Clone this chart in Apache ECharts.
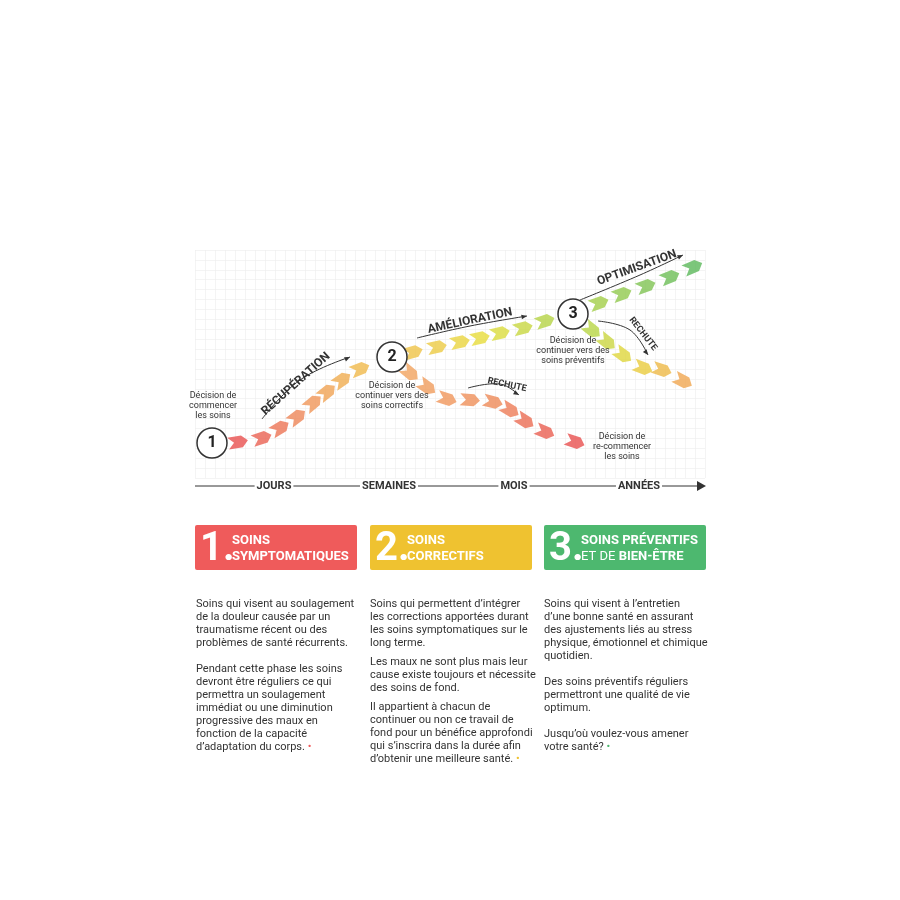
<!DOCTYPE html>
<html><head><meta charset="utf-8">
<script src="https://cdn.jsdelivr.net/npm/echarts@6/dist/echarts.min.js"></script>
<style>html,body{margin:0;background:#fff}#main{width:900px;height:900px}</style>
</head><body><div id="main"></div>
<script>
// chevron positions (page pixels)
const mainPath = [[238,442],[262,438],[280,428],[297,417],[313,403],[327,392],[342,380],[360,369],
  [413,352],[437,347],[460,342],[480,338],[500,333],[523,328],[545,321],
  [599,303],[622,294],[646,286],[670,277],[693,267]];
const relapse1 = [[410,373],[427,387],[447,399],[470,400],[493,402],[510,410],[525,421],[545,432],[575,442]];
const relapse2 = [[592,330],[607,342],[623,355],[643,368],[662,370],[683,381]];
const milestones = [[212,443,'1'],[392,357,'2'],[573,314,'3']];
const timeLabels = [['JOURS',274],['SEMAINES',389],['MOIS',514],['ANNÉES',639]];

const chevron = 'path://M0,0 L14,0 L20,6 L14,12 L0,12 L6,6 Z';
function mix(a, b, t) {
  const pa = a.match(/\w\w/g).map(h => parseInt(h, 16)), pb = b.match(/\w\w/g).map(h => parseInt(h, 16));
  return 'rgb(' + pa.map((v, i) => Math.round(v + (pb[i] - v) * t)).join(',') + ')';
}
function ramp(stops, t) {
  const n = stops.length - 1, k = Math.min(n - 1, Math.floor(t * n));
  return mix(stops[k], stops[k + 1], t * n - k);
}
function chevSeries(pts, stops) {
  return {
    type: 'scatter', xAxisIndex: 0, yAxisIndex: 0, symbol: chevron, symbolSize: [20, 12], z: 5,
    data: pts.map((p, i) => {
      const a = pts[Math.max(0, i - 1)], b = pts[Math.min(pts.length - 1, i + 1)];
      return {
        value: p,
        symbolRotate: Math.atan2(a[1] - b[1], b[0] - a[0]) * 180 / Math.PI,
        itemStyle: { color: ramp(stops, i / (pts.length - 1)) }
      };
    })
  };
}

const g = [];
milestones.forEach(m => {
  g.push({ type: 'circle', shape: { cx: m[0], cy: m[1], r: 15 }, style: { fill: '#fff', stroke: '#333', lineWidth: 1.5 }, z: 10 });
  g.push({ type: 'text', x: m[0], y: m[1], style: { text: m[2], font: 'bold 16px Roboto', fill: '#222', align: 'center', verticalAlign: 'middle' }, z: 11 });
});
const small = (t, x, y) => g.push({ type: 'text', x, y, style: { text: t, font: '9px Roboto', fill: '#333', align: 'center', lineHeight: 10 }, z: 11 });
small('Décision de\ncommencer\nles soins', 213, 391);
small('Décision de\ncontinuer vers des\nsoins correctifs', 392, 381);
small('Décision de\ncontinuer vers des\nsoins préventifs', 573, 336);
small('Décision de\nre-commencer\nles soins', 622, 432);
const rot = (t, x, y, deg, size) => g.push({ type: 'text', x, y, rotation: deg * Math.PI / 180,
  style: { text: t, font: 'bold ' + size + 'px Roboto', fill: '#333', align: 'center', verticalAlign: 'middle' }, z: 11 });
rot('RÉCUPÉRATION', 296, 384, 42, 12);
rot('AMÉLIORATION', 470, 321, 12, 12);
rot('OPTIMISATION', 637, 268, 20, 12);
rot('RECHUTE', 507, 385, -12, 9);
rot('RECHUTE', 643, 334, -52, 9);
const arrow = (pts) => {
  g.push({ type: 'polyline', shape: { points: pts, smooth: 0.4 }, style: { stroke: '#333', lineWidth: 1, fill: null }, z: 11 });
  const a = pts[pts.length - 2], b = pts[pts.length - 1], ang = Math.atan2(b[1] - a[1], b[0] - a[0]);
  g.push({ type: 'polygon', shape: { points: [b, [b[0] - 6 * Math.cos(ang - 0.4), b[1] - 6 * Math.sin(ang - 0.4)], [b[0] - 6 * Math.cos(ang + 0.4), b[1] - 6 * Math.sin(ang + 0.4)]] }, style: { fill: '#333' }, z: 11 });
};
arrow([[262, 419], [300, 380], [350, 357]]);
arrow([[417, 338], [470, 326], [527, 316]]);
arrow([[580, 300], [640, 275], [683, 255]]);
arrow([[468, 388], [500, 384], [519, 395]]);
arrow([[598, 321], [630, 330], [648, 355]]);
// time axis
g.push({ type: 'line', shape: { x1: 195, y1: 486, x2: 698, y2: 486 }, style: { stroke: '#333', lineWidth: 1 }, z: 11 });
g.push({ type: 'polygon', shape: { points: [[706, 486], [697, 481], [697, 491]] }, style: { fill: '#333' }, z: 11 });
timeLabels.forEach(t => g.push({ type: 'text', x: t[1], y: 486, style: { text: t[0], font: 'bold 11px Roboto', fill: '#333', align: 'center', verticalAlign: 'middle', backgroundColor: '#fff', padding: [0, 2] }, z: 12 }));

// boxes
const boxes = [
  [195, '#ef5b5b', '1.', ['SOINS', 'SYMPTOMATIQUES']],
  [370, '#efc230', '2.', ['SOINS', 'CORRECTIFS']],
  [544, '#4db86f', '3.', ['SOINS PRÉVENTIFS', 'ET DE {b|BIEN-ÊTRE}']]
];
boxes.forEach(b => {
  g.push({ type: 'rect', shape: { x: b[0], y: 525, width: 162, height: 45, r: 2 }, style: { fill: b[1] } });
  g.push({ type: 'text', x: b[0] + 5, y: 550, style: { text: b[2], font: 'bold 40px Roboto', fill: '#fff', verticalAlign: 'middle' } });
  g.push({ type: 'text', x: b[0] + 37, y: 533, style: { text: b[3].join('\n'), font: 'bold 13px Roboto', fill: '#fff', lineHeight: 16,
    rich: { b: { font: 'bold 13px Roboto', fill: '#fff' } } } });
});
boxes[2] && g.pop(); // replace third title with mixed weight
g.push({ type: 'text', x: 581, y: 533, style: { text: '{b|SOINS PRÉVENTIFS}\n{n|ET DE }{b|BIEN-ÊTRE}', fill: '#fff',
  rich: { b: { font: 'bold 13px Roboto', fill: '#fff', lineHeight: 16 }, n: { font: '13px Roboto', fill: '#fff', lineHeight: 16 } } } });

const col1 = 'Soins qui visent au soulagement\nde la douleur causée par un\ntraumatisme récent ou des\nproblèmes de santé récurrents.\n\nPendant cette phase les soins\ndevront être réguliers ce qui\npermettra un soulagement\nimmédiat ou une diminution\nprogressive des maux en\nfonction de la capacité\nd\u2019adaptation du corps. {r|•}';
const col2 = 'Soins qui permettent d\u2019intégrer\nles corrections apportées durant\nles soins symptomatiques sur le\nlong terme.\n{s|}\nLes maux ne sont plus mais leur\ncause existe toujours et nécessite\ndes soins de fond.\n{s|}\nIl appartient à chacun de\ncontinuer ou non ce travail de\nfond pour un bénéfice approfondi\nqui s\u2019inscrira dans la durée afin\nd\u2019obtenir une meilleure santé. {y|•}';
const col3 = 'Soins qui visent à l\u2019entretien\nd\u2019une bonne santé en assurant\ndes ajustements liés au stress\nphysique, émotionnel et chimique\nquotidien.\n\nDes soins préventifs réguliers\npermettront une qualité de vie\noptimum.\n\nJusqu\u2019où voulez-vous amener\nvotre santé? {g|•}';
[[196, col1], [370, col2], [544, col3]].forEach(c => g.push({ type: 'text', x: c[0], y: 598, style: { text: c[1], font: '11px Roboto', fill: '#333', lineHeight: 13,
  rich: { r: { fill: '#ef5b5b' }, y: { fill: '#efc230' }, g: { fill: '#4db86f' }, s: { lineHeight: 6 } } } }));

const chart = echarts.init(document.getElementById('main'));
chart.setOption({
  animation: false,
  grid: [
    { left: 0, top: 0, width: 900, height: 900 },
    { left: 195, top: 250, width: 510, height: 228 }
  ],
  xAxis: [
    { type: 'value', min: 0, max: 900, show: false, gridIndex: 0 },
    { type: 'value', min: 0, max: 510, interval: 10, gridIndex: 1, axisLine: { show: false }, axisTick: { show: false }, axisLabel: { show: false }, splitLine: { lineStyle: { color: '#ececec', width: 0.6 } } }
  ],
  yAxis: [
    { type: 'value', min: 0, max: 900, inverse: true, show: false, gridIndex: 0 },
    { type: 'value', min: 0, max: 230, interval: 10, gridIndex: 1, axisLine: { show: false }, axisTick: { show: false }, axisLabel: { show: false }, splitLine: { lineStyle: { color: '#ececec', width: 0.6 } } }
  ],
  series: [
    chevSeries(mainPath, ['e8504f', 'f0945a', 'f0c048', 'e6df3a', '9fcd4a', '5bb85a']),
    chevSeries(relapse1, ['f1a25e', 'ee8a58', 'e8504f']),
    chevSeries(relapse2, ['b8d645', 'e8d63a', 'f0a650'])
  ],
  graphic: g
});
</script></body></html>
